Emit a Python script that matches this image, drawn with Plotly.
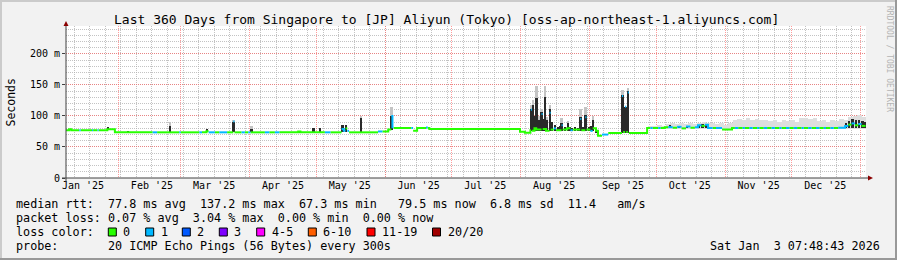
import pandas as pd
import plotly.graph_objects as go

# ---------------------------------------------------------------- data
START = pd.Timestamp("2025-01-08 07:48:43")
END = pd.Timestamp("2026-01-03 07:48:43")
DATA_END_DAY = 359.8

# median rtt, step breakpoints: day offset from START, value (ms), lost pings
med_day = [0, 1.4, 2.4, 6.0, 6.6, 11.7, 12.2, 14.2, 14.7, 18.6,
           22.0, 39.0, 41.0, 51.0, 51.6, 60.0, 61.2, 63.2, 64.2, 67.0,
           69.0, 72.5, 75.3, 75.8, 79.0, 80.5, 82.0, 83.0, 89.5, 91.5,
           94.0, 96.0, 104.5, 105.5, 116.5, 119.0, 124.0, 125.0, 125.8, 126.6,
           127.4, 140.4, 142.4, 145.0, 146.4, 146.9, 147.4, 155.4, 156.2, 158.0,
           162.0, 162.8, 163.5, 204.3, 206.5, 209.0, 209.2, 209.7, 210.8, 211.6,
           214.0, 214.5, 216.0, 217.6, 218.1, 219.5, 220.5, 223.0, 223.5, 225.5,
           227.0, 228.0, 231.4, 231.9, 233.7, 234.2, 236.0, 237.0, 238.5, 239.4,
           241.2, 244.0, 250.2, 250.7, 251.6, 252.1, 252.8, 253.3, 261.5, 263.0,
           264.0, 266.5, 267.5, 269.5, 271.0, 273.0, 275.0, 277.0, 279.0, 281.0,
           283.0, 284.4, 286.0, 287.5, 288.9, 291.0, 292.5, 295.2, 299.7, 301.0,
           302.5, 304.5, 305.5, 307.5, 309.0, 311.0, 312.0, 314.0, 315.5, 317.5,
           319.0, 321.0, 322.0, 324.0, 325.5, 327.5, 329.0, 331.0, 332.0, 334.0,
           335.5, 337.5, 339.0, 341.0, 342.0, 344.0, 345.5, 347.5, 350.6, 352.0,
           353.5, 355.0, 356.5, 358.0]
med_ms = [77, 78.5, 77, 77, 77, 77, 77, 77, 77, 78.5,
          73.6, 73.6, 73.6, 73.6, 73.6, 73.6, 73.6, 75.5, 73.6, 73.6,
          73.6, 73.6, 91, 73.6, 73.6, 73.6, 73.6, 73.6, 73.6, 73.6,
          73.6, 73.6, 75.0, 73.6, 73.6, 73.6, 79, 76, 80, 76,
          73.6, 75, 75, 78, 100, 82, 80.6, 80.6, 76, 80.6,
          81.5, 80.6, 79, 74.5, 73, 77, 110, 76, 80, 78,
          103, 79, 76, 105, 78, 80, 77, 85, 78, 80,
          77, 78, 95, 77, 98, 78, 76, 80, 76, 68,
          70, 72.5, 132, 74, 115, 74, 138, 72.5, 80.6, 80.6,
          80.6, 80.6, 80.6, 82, 82, 81, 82.5, 80, 83, 81,
          82, 85, 84, 86, 80.6, 80.6, 80.6, 78, 80.6, 80.6,
          80.6, 80.6, 80.6, 80.6, 80.6, 80.6, 80.6, 80.6, 80.6, 80.6,
          80.6, 80.6, 80.6, 80.6, 80.6, 80.6, 80.6, 80.6, 80.6, 80.6,
          80.6, 80.6, 80.6, 80.6, 80.6, 80.6, 80.6, 81, 84, 86,
          88, 85, 87, 84]
med_loss = [0, 0, 0, 1, 0, 1, 0, 1, 0, 0,
            0, 1, 0, 1, 0, 1, 0, 0, 1, 0,
            1, 0, 1, 0, 1, 0, 1, 0, 1, 0,
            1, 0, 0, 0, 1, 0, 1, 1, 0, 1,
            0, 1, 0, 0, 1, 1, 0, 1, 0, 0,
            1, 0, 0, 0, 0, 0, 1, 0, 0, 0,
            1, 0, 0, 1, 0, 1, 0, 1, 0, 0,
            1, 0, 1, 0, 1, 0, 1, 0, 0, 0,
            1, 0, 1, 0, 1, 0, 1, 0, 0, 1,
            0, 1, 0, 0, 1, 0, 1, 0, 1, 0,
            1, 1, 0, 1, 1, 0, 1, 0, 0, 1,
            0, 1, 0, 1, 0, 1, 0, 1, 0, 1,
            0, 1, 0, 1, 0, 1, 0, 1, 0, 1,
            0, 1, 0, 1, 0, 1, 0, 1, 1, 0,
            1, 0, 1, 0]

# dark smoke (pings close to the median): day, low ms, high ms
dark_day = [18.9, 27.9, 46.9, 63.5, 75.5, 83.6, 105.0, 111.5, 114.3, 124.5,
            126.2, 133.0, 146.6, 209.3, 210.2, 211.0, 211.8, 212.9, 214.1, 214.8,
            215.6, 216.6, 217.8, 218.9, 220.1, 221.4, 222.3, 223.1, 224.6, 225.9,
            226.8, 227.6, 229.1, 230.4, 231.6, 232.8, 233.9, 235.4, 236.3, 237.3,
            238.8, 250.5, 251.9, 253.0, 272.0, 276.0, 279.5, 285.0, 286.5, 288.0,
            351.0, 352.5, 354.0, 355.5, 357.0, 358.5, 359.4]
dark_lo = [77, 73, 73.6, 73.6, 73.6, 73.6, 73.6, 73.6, 73.6, 74,
           74, 73.6, 78, 75, 75, 75, 75, 75, 75, 75,
           75, 75, 75, 75, 75, 75, 75, 75, 75, 75,
           75, 75, 75, 75, 75, 75, 75, 75, 75, 75,
           72, 72.5, 72.5, 72.5, 80, 80, 80, 80, 80, 80,
           80, 80, 80, 80, 80, 80, 80]
dark_hi = [82, 76, 84, 79, 91, 79, 76.5, 80, 80, 85,
           85, 97, 100, 111, 118, 100, 129, 94, 107, 95,
           131, 94, 111, 91, 86, 82, 84, 89, 82, 88,
           83, 80, 82, 80, 99, 82, 102, 82, 84, 94,
           78, 134, 115, 140, 85, 84, 84, 86, 87, 85,
           88, 92, 95, 94, 93, 92, 90]

# light smoke above the spikes: day, low ms, high ms
grey_day = [46.9, 75.5, 83.6, 133.0, 146.6, 209.3, 210.2, 211.8, 212.9, 214.1,
            215.6, 216.6, 217.8, 223.1, 225.9, 231.6, 233.9, 237.3, 250.5, 253.0]
grey_lo = [84, 91, 79, 97, 100, 111, 118, 129, 94, 107,
           131, 94, 111, 89, 88, 99, 102, 94, 134, 140]
grey_hi = [91, 94, 84, 100, 115, 118, 125, 148, 100, 112,
           148, 98, 118, 97, 92, 111, 115, 100, 142, 145]

# broad light smoke band Oct-Dec: bin centre day, top ms
band_day = [263, 265, 267, 269, 271, 273, 275, 277, 279, 281,
            283, 285, 287, 289, 291, 293, 295, 297, 299, 301,
            303, 305, 307, 309, 311, 313, 315, 317, 319, 321,
            323, 325, 327, 329, 331, 333, 335, 337, 339, 341,
            343, 345, 347, 349, 351, 353, 355, 357, 359]
band_hi = [84, 84, 85, 84, 87, 88, 87, 88, 87, 88,
           87, 89, 90, 89, 88, 87, 88, 86, 88, 94,
           95, 93, 96, 94, 95, 93, 94, 92, 93, 91,
           94, 92, 93, 91, 96, 97, 95, 96, 92, 93,
           91, 94, 92, 95, 94, 99, 100, 101, 99]
BAND_LO = 79.5

month_labels = ["Jan '25", "Feb '25", "Mar '25", "Apr '25", "May '25", "Jun '25",
                "Jul '25", "Aug '25", "Sep '25", "Oct '25", "Nov '25", "Dec '25"]
month_label_dates = ["2025-01-16", "2025-02-16", "2025-03-16", "2025-04-16",
                     "2025-05-16", "2025-06-16", "2025-07-16", "2025-08-16",
                     "2025-09-16", "2025-10-16", "2025-11-16", "2025-12-16"]
y_tickvals = [0, 50, 100, 150, 200]
y_ticktext = ["0", "50 m", "100 m", "150 m", "200 m"]

loss_labels = ["0", "1", "2", "3", "4-5", "6-10", "11-19", "20/20"]
loss_colors = ["#26ff00", "#00b8ff", "#0059ff", "#7e00ff", "#ff00ff",
               "#ff5e00", "#ff0000", "#a10000"]

line1 = "median rtt:  77.8 ms avg  137.2 ms max  67.3 ms min   79.5 ms now  6.8 ms sd  11.4   am/s"
line2 = "packet loss: 0.07 % avg  3.04 % max  0.00 % min  0.00 % now"
line3 = "loss color:"
line4 = "probe:       20 ICMP Echo Pings (56 Bytes) every 300s"
stamp = "Sat Jan  3 07:48:43 2026"
title = "Last 360 Days from Singapore to [JP] Aliyun (Tokyo) [oss-ap-northeast-1.aliyuncs.com]"

# ---------------------------------------------------------------- geometry
W, H = 897, 260
L, R, T, B = 66, 31, 26, 82
PW, PH = W - L - R, H - T - B
MONO = "DejaVu Sans Mono"
DAY_MS = 86400000


def px(x):
    return (x - L) / PW


def py(y):
    return (H - B - y) / PH


def d2t(d):
    return START + pd.Timedelta(days=d)


def nb(s):
    return s.replace(" ", "\u00a0")


fig = go.Figure()

# broad light smoke
fig.add_trace(go.Bar(x=[d2t(d) for d in band_day], y=[h - BAND_LO for h in band_hi],
                     base=BAND_LO, width=2 * DAY_MS,
                     marker=dict(color="#dedede", line=dict(width=0)), hoverinfo="skip"))
# light smoke above spikes
fig.add_trace(go.Bar(x=[d2t(d) for d in grey_day], y=[h - l for h, l in zip(grey_hi, grey_lo)],
                     base=grey_lo, width=0.8 * DAY_MS,
                     marker=dict(color="#c4c4c4", line=dict(width=0)), hoverinfo="skip"))
# dark smoke
fig.add_trace(go.Bar(x=[d2t(d) for d in dark_day], y=[h - l for h, l in zip(dark_hi, dark_lo)],
                     base=dark_lo, width=0.8 * DAY_MS,
                     marker=dict(color="#2a2a2a", line=dict(width=0)), hoverinfo="skip"))

# median line, one trace per loss colour
ends = med_day[1:] + [DATA_END_DAY]
for lv, col in [(0, loss_colors[0]), (1, loss_colors[1])]:
    xs, ys = [], []
    for i in range(len(med_day)):
        if med_loss[i] != lv:
            continue
        xs.append(d2t(med_day[i]))
        ys.append(med_ms[i])
        if i + 1 >= len(med_day) or med_loss[i + 1] != lv:
            xs.append(d2t(ends[i]))
            ys.append(med_ms[i])
            xs.append(None)
            ys.append(None)
    fig.add_trace(go.Scatter(x=xs, y=ys, mode="lines", line=dict(color=col, width=2, shape="hv"),
                             connectgaps=False, hoverinfo="skip"))

# invisible trace to carry the label axis
fig.add_trace(go.Scatter(x=[START], y=[0], xaxis="x2", mode="markers",
                         marker=dict(opacity=0), hoverinfo="skip"))

GRID = "rgba(175,175,175,0.75)"
MGRID = "rgba(255,90,90,0.6)"
DASH = "1px,1px"

month_starts = pd.date_range("2025-02-01", END, freq="MS")
sundays = pd.date_range("2025-01-12", END, freq="7D")

fig.update_layout(
    width=W, height=H, autosize=False,
    margin=dict(l=L, r=R, t=T, b=B, pad=0),
    paper_bgcolor="#f2f2f2", plot_bgcolor="#ffffff",
    showlegend=False, barmode="overlay", bargap=0,
    font=dict(family=MONO, size=10, color="#000000"),
    xaxis=dict(type="date", range=[START, END], tickmode="array", tickvals=list(month_starts),
               showticklabels=False, ticks="", showgrid=True, gridcolor=MGRID, griddash=DASH,
               gridwidth=1, zeroline=False, showline=False, fixedrange=True,
               minor=dict(tickmode="array", tickvals=list(sundays), showgrid=True,
                          gridcolor=GRID, griddash=DASH, gridwidth=1, ticks="")),
    xaxis2=dict(type="date", range=[START, END], overlaying="x", anchor="y", side="bottom",
                tickmode="array", tickvals=month_label_dates, ticktext=month_labels,
                showgrid=False, zeroline=False, showline=False, ticks="",
                tickfont=dict(family=MONO, size=10, color="#000000")),
    yaxis=dict(range=[0, 245], tickmode="array", tickvals=y_tickvals, ticktext=y_ticktext,
               showgrid=True, gridcolor=MGRID, griddash=DASH, gridwidth=1,
               zeroline=False, showline=False, ticks="outside", ticklen=3,
               tickcolor="#404040", tickfont=dict(family=MONO, size=10, color="#000000"),
               minor=dict(dtick=10, showgrid=True, gridcolor=GRID, griddash=DASH, gridwidth=1,
                          ticks="")),
)

shapes = []
# axes and arrows
shapes.append(dict(type="line", xref="paper", yref="paper", x0=px(62), x1=px(869),
                   y0=py(178), y1=py(178), line=dict(color="#404040", width=1)))
shapes.append(dict(type="line", xref="paper", yref="paper", x0=px(66), x1=px(66),
                   y0=py(182), y1=py(25), line=dict(color="#404040", width=1)))
shapes.append(dict(type="path", xref="paper", yref="paper",
                   path=f"M {px(868)} {py(175.5)} L {px(873)} {py(178)} L {px(868)} {py(180.5)} Z",
                   fillcolor="#8b0000", line=dict(width=0)))
shapes.append(dict(type="path", xref="paper", yref="paper",
                   path=f"M {px(63.5)} {py(26)} L {px(66)} {py(21)} L {px(68.5)} {py(26)} Z",
                   fillcolor="#8b0000", line=dict(width=0)))
# frame
shapes.append(dict(type="rect", xref="paper", yref="paper", x0=px(0), x1=px(W), y0=py(0), y1=py(2),
                   fillcolor="#cbcbcb", line=dict(width=0)))
shapes.append(dict(type="rect", xref="paper", yref="paper", x0=px(0), x1=px(2), y0=py(0), y1=py(H),
                   fillcolor="#cbcbcb", line=dict(width=0)))
shapes.append(dict(type="rect", xref="paper", yref="paper", x0=px(0), x1=px(W), y0=py(H - 2), y1=py(H),
                   fillcolor="#999999", line=dict(width=0)))
shapes.append(dict(type="rect", xref="paper", yref="paper", x0=px(W - 2), x1=px(W), y0=py(0), y1=py(H),
                   fillcolor="#999999", line=dict(width=0)))

# loss colour boxes
box_x = [108.3, 145.7, 182.3, 219.3, 256.7, 308.3, 367.0, 432.5]
for bx, col in zip(box_x, loss_colors):
    shapes.append(dict(type="rect", xref="paper", yref="paper", x0=px(bx), x1=px(bx + 8),
                       y0=py(236), y1=py(228), fillcolor=col, line=dict(color="#000000", width=1)))

ann = []
LEG = 11.75
ann.append(dict(text=nb(title), x=px(446), y=py(19), xanchor="center", yanchor="middle",
                font=dict(family=MONO, size=13, color="#000000")))
ann.append(dict(text="Seconds", x=px(10.5), y=py(102), textangle=-90, xanchor="center",
                yanchor="middle", font=dict(family=MONO, size=11.5, color="#000000")))
ann.append(dict(text=nb("RRDTOOL / TOBI OETIKER"), x=px(889), y=py(59), textangle=90,
                xanchor="center", yanchor="middle", font=dict(family=MONO, size=8, color="#b4b4b4")))
for txt, yy in [(line1, 204), (line2, 218), (line3, 232), (line4, 246)]:
    ann.append(dict(text=nb(txt), x=px(14), y=py(yy), xanchor="left", yanchor="middle",
                    font=dict(family=MONO, size=LEG, color="#000000")))
for bx, lab in zip(box_x, loss_labels):
    ann.append(dict(text=nb(lab), x=px(bx + 13), y=py(232), xanchor="left", yanchor="middle",
                    font=dict(family=MONO, size=LEG, color="#000000")))
ann.append(dict(text=nb(stamp), x=px(882), y=py(246), xanchor="right", yanchor="middle",
                font=dict(family=MONO, size=LEG, color="#000000")))
for a in ann:
    a.update(xref="paper", yref="paper", showarrow=False)

fig.update_layout(shapes=shapes, annotations=ann)
fig.write_html("out.html", config={"displayModeBar": False})
